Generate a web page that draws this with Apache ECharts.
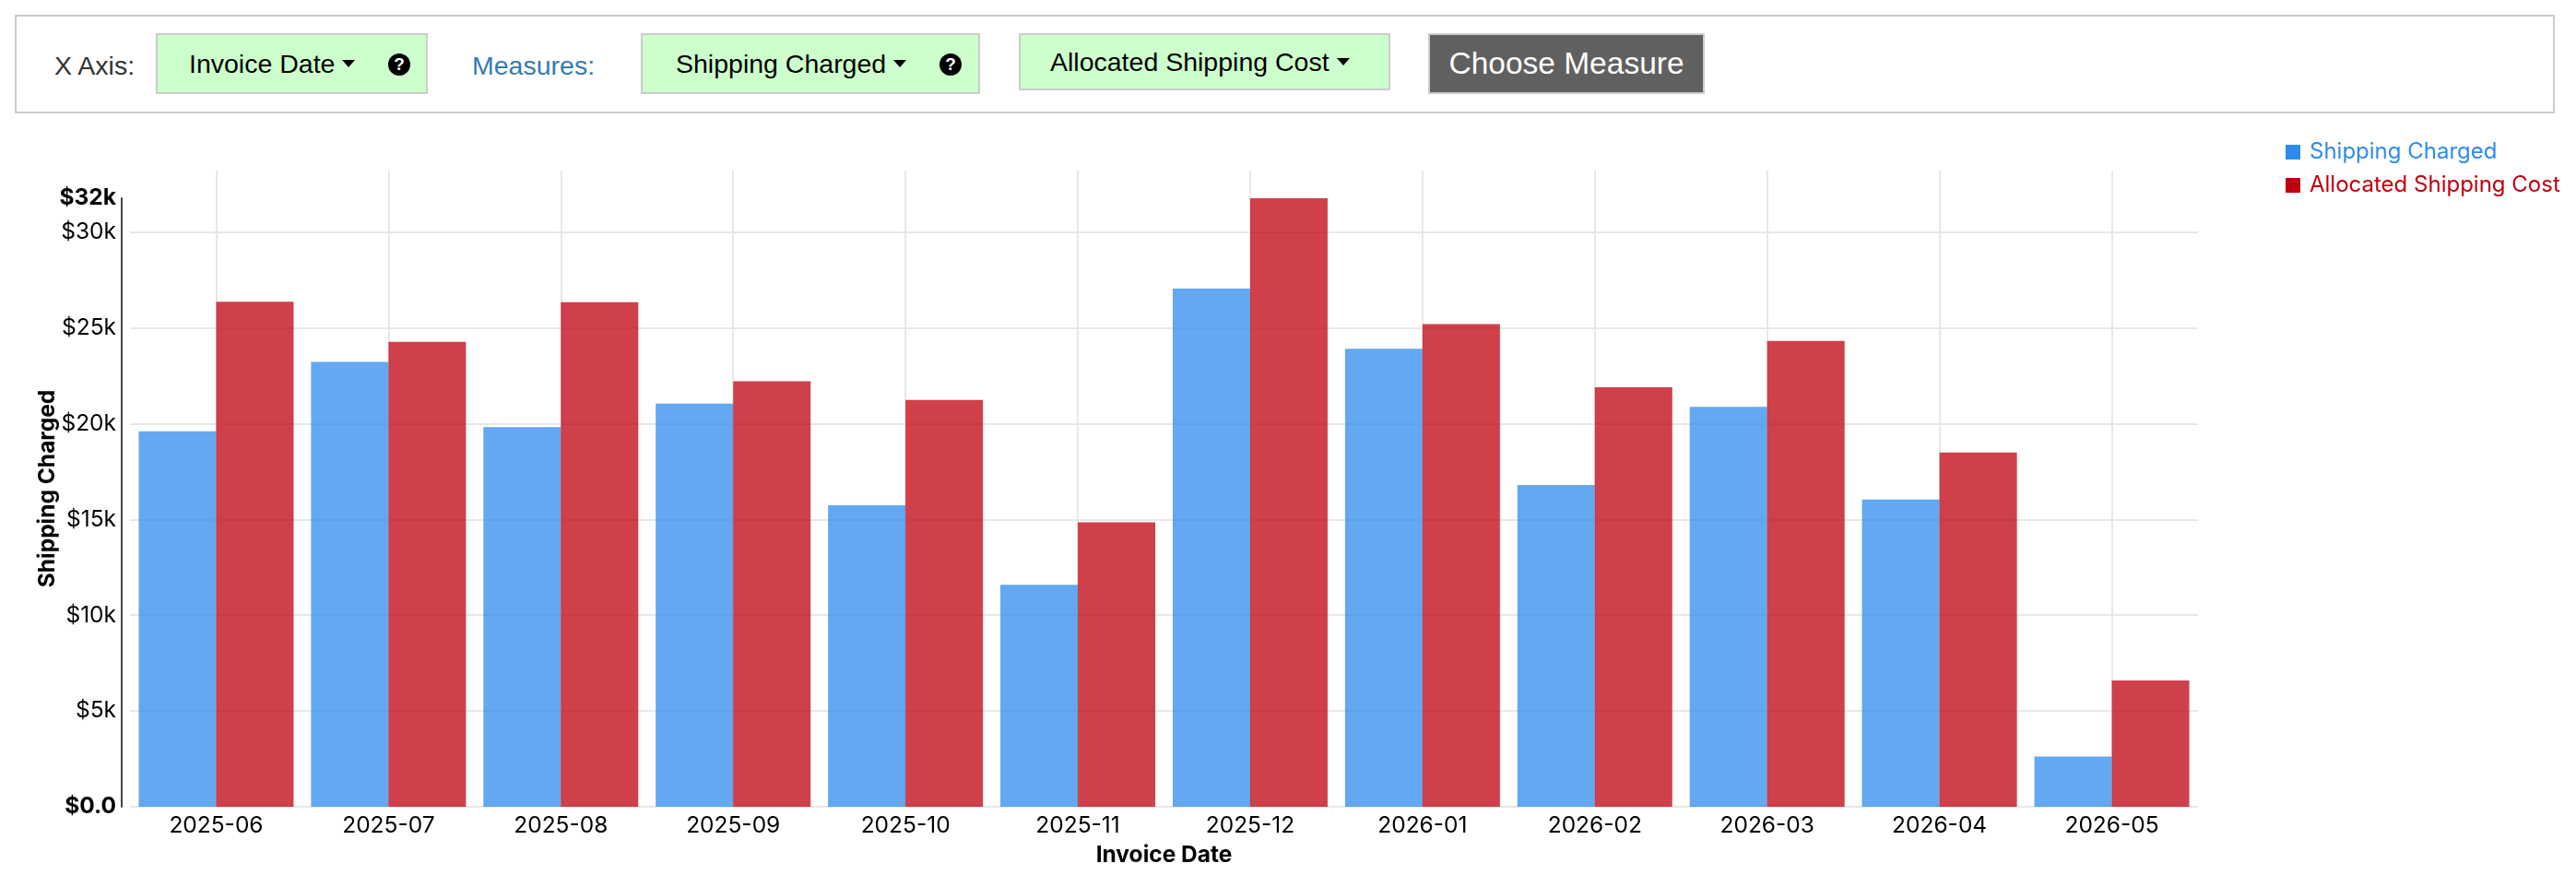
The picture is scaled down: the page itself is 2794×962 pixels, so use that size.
<!DOCTYPE html>
<html>
<head>
<meta charset="utf-8">
<script src="https://cdn.jsdelivr.net/npm/echarts@6/dist/echarts.min.js"></script>
<style>
  html, body { margin: 0; padding: 0; background: #fff; }
  #chart { position: absolute; left: 0; top: 0; width: 2794px; height: 962px; }
  #panel {
    position: absolute; left: 16px; top: 16px; width: 2751px; height: 103px;
    border: 2px solid #cccccc; background: #fff; z-index: 2;
    font-family: "Liberation Sans", Arial, Helvetica, sans-serif; font-size: 28.5px; color: #333;
  }
  .lbl { position: absolute; top: 20px; height: 66px; line-height: 66px; }
  .btn {
    position: absolute; top: 18px; height: 62px; box-sizing: content-box;
    border: 2px solid #cccccc; background: #ccffcc; color: #000;
    line-height: 62px; white-space: nowrap;
  }
  .caret {
    display: inline-block; width: 0; height: 0; margin-left: 8px; vertical-align: middle;
    border-top: 8px solid #000; border-left: 7px solid transparent; border-right: 7px solid transparent;
    position: relative; top: -2px;
  }
  .q {
    position: absolute; top: 20px; width: 24px; height: 24px; border-radius: 50%;
    background: #000; color: #fff; font-weight: bold; font-size: 19px; line-height: 24px; text-align: center;
  }
</style>
</head>
<body>
<div id="chart"></div>
<div id="panel">
  <div class="lbl" style="left:41px;">X Axis:</div>
  <div class="btn" style="left:151px; width:291px;"><span style="position:absolute;left:34px;">Invoice Date<span class="caret"></span></span><span class="q" style="left:250px;">?</span></div>
  <div class="lbl" style="left:494px; color:#337ab7;">Measures:</div>
  <div class="btn" style="left:677px; width:364px;"><span style="position:absolute;left:36px;">Shipping Charged<span class="caret"></span></span><span class="q" style="left:322px;">?</span></div>
  <div class="btn" style="left:1087px; width:399px; height:58px; line-height:58px;"><span style="position:absolute;left:32px;">Allocated Shipping Cost<span class="caret"></span></span></div>
  <div class="btn" style="left:1531px; width:296px; background:#606060; color:#fff; font-size:33.5px; text-align:center;">Choose Measure</div>
</div>
<script>
// ---- data ----
const categories = ['2025-06','2025-07','2025-08','2025-09','2025-10','2025-11','2025-12','2026-01','2026-02','2026-03','2026-04','2026-05'];
const shippingCharged = [19600, 23220, 19810, 21040, 15740, 11580, 27040, 23900, 16800, 20870, 16040, 2620];
const allocatedShippingCost = [26360, 24260, 26330, 22210, 21230, 14840, 31760, 25190, 21900, 24310, 18490, 6590];
const seriesNames = ['Shipping Charged', 'Allocated Shipping Cost'];
const xAxisTitle = 'Invoice Date';
const yAxisTitle = 'Shipping Charged';

const dataMax = Math.max(...shippingCharged, ...allocatedShippingCost);
const FONT = 'Inter, "Noto Sans", sans-serif';
const FS = 24.5;
const BLUE = '#2f8beb', RED = '#c0000f';
const LEFT = 141, RIGHT = 410, BOTTOM = 87;

const chart = echarts.init(document.getElementById('chart'), null, { renderer: 'canvas' });
chart.setOption({
  animation: false,
  textStyle: { fontFamily: FONT },
  grid: [
    { left: LEFT, right: RIGHT, top: 215, bottom: BOTTOM, containLabel: false },
    { left: LEFT, right: RIGHT, top: 185, bottom: BOTTOM, containLabel: false }
  ],
  legend: {
    orient: 'vertical', left: 2474, top: 148, itemWidth: 16, itemHeight: 16, itemGap: 12, icon: 'rect',
    textStyle: { fontFamily: FONT, fontSize: 24, lineHeight: 24, padding: [0, 0, 0, 5] },
    data: [
      { name: seriesNames[0], itemStyle: { color: BLUE, opacity: 1 }, textStyle: { color: BLUE } },
      { name: seriesNames[1], itemStyle: { color: RED, opacity: 1 }, textStyle: { color: RED } }
    ]
  },
  xAxis: [
    {
      type: 'category', gridIndex: 0, data: categories,
      axisLine: { show: false }, axisTick: { show: false },
      axisLabel: { color: '#000', fontFamily: FONT, fontSize: FS, margin: 8 },
      splitLine: { show: false },
      name: xAxisTitle, nameLocation: 'middle', nameGap: 40,
      nameTextStyle: { color: '#000', fontFamily: FONT, fontWeight: 'bold', fontSize: FS }
    },
    {
      type: 'category', gridIndex: 1, data: categories,
      axisLine: { show: false }, axisTick: { show: false }, axisLabel: { show: false },
      splitLine: { show: true, alignWithLabel: true, lineStyle: { color: '#e8e8e8', width: 2 } }
    }
  ],
  yAxis: [
    {
      type: 'value', gridIndex: 0, min: 0, max: dataMax, interval: 5000, offset: 9,
      axisLine: { show: true, lineStyle: { color: '#444', width: 2 } },
      axisTick: { show: false },
      axisLabel: {
        color: '#000', fontFamily: FONT, fontSize: FS, margin: 6,
        formatter: function (v) {
          if (v === 0) return '{b|$0.0}';
          if (v === dataMax) return '{b|$' + Math.round(v / 1000) + 'k}';
          return '$' + (v / 1000) + 'k';
        },
        rich: { b: { fontWeight: 'bold', fontFamily: FONT, fontSize: FS, color: '#000' } }
      },
      splitLine: { show: true, showMaxLine: false, lineStyle: { color: '#e8e8e8', width: 2 } }
    },
    {
      type: 'value', gridIndex: 1, offset: 9,
      axisLine: { show: false }, axisTick: { show: false }, axisLabel: { show: false },
      splitLine: { show: false },
      name: yAxisTitle, nameLocation: 'middle', nameGap: 68,
      nameTextStyle: { color: '#000', fontFamily: FONT, fontWeight: 'bold', fontSize: FS }
    }
  ],
  series: [
    {
      name: seriesNames[0], type: 'bar', xAxisIndex: 0, yAxisIndex: 0, data: shippingCharged,
      barWidth: 84, barGap: '0%',
      itemStyle: { color: BLUE, opacity: 0.75 }
    },
    {
      name: seriesNames[1], type: 'bar', xAxisIndex: 0, yAxisIndex: 0, data: allocatedShippingCost,
      barWidth: 84, barGap: '0%',
      itemStyle: { color: RED, opacity: 0.75 }
    }
  ]
});
</script>
</body>
</html>
